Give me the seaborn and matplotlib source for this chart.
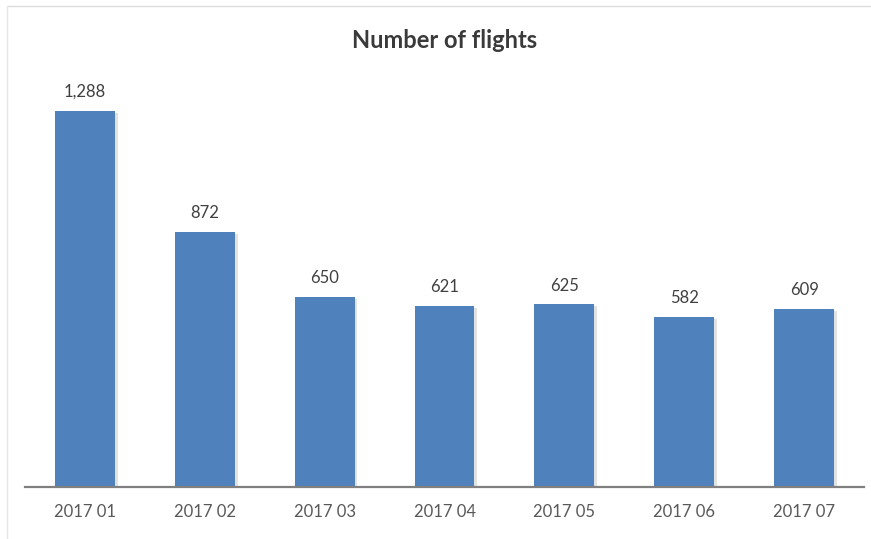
import matplotlib
matplotlib.use("Agg")
import matplotlib.pyplot as plt
import matplotlib.patheffects as pe
import seaborn as sns
import pandas as pd

# Monthly flight counts
months = ["2017 01", "2017 02", "2017 03", "2017 04", "2017 05", "2017 06", "2017 07"]
flights = [1288, 872, 650, 621, 625, 582, 609]

sns.set_theme(style="white")
plt.rcParams["font.family"] = ["Lato", "DejaVu Sans"]

W, H = 871, 539
fig = plt.figure(figsize=(W / 100, H / 100), dpi=100)
fig.patch.set_facecolor("white")

base_y, top_y = 487, 78
ax = fig.add_axes([25 / W, (H - base_y) / H, (864 - 25) / W, (base_y - top_y) / H])

df = pd.DataFrame({"month": months, "flights": flights})
sns.barplot(data=df, x="month", y="flights", color="#4F81BD", saturation=1,
            width=0.5, ax=ax)

shadow = [pe.SimplePatchShadow(offset=(2, -1.5), shadow_rgbFace="#8c8c8c", alpha=0.25),
          pe.Normal()]
for patch in ax.patches:
    patch.set_edgecolor("none")
    patch.set_path_effects(shadow)

for i, v in enumerate(flights):
    ax.annotate(f"{v:,}", xy=(i, v), xytext=(0, 10), textcoords="offset points",
                ha="center", va="baseline", fontsize=12, color="#404040")

ax.set_ylim(0, 1400)
ax.set_xlim(-0.5, len(months) - 0.5)
ax.set_xlabel("")
ax.set_ylabel("")
ax.set_yticks([])
ax.tick_params(axis="x", length=0, pad=12, labelsize=12, labelcolor="#595959")
for side in ["top", "left", "right"]:
    ax.spines[side].set_visible(False)
ax.spines["bottom"].set_color("#808080")
ax.spines["bottom"].set_linewidth(1.6)

fig.text(445 / W, 1 - 40 / H, "Number of flights", ha="center", va="center",
         fontsize=17, fontweight="bold", color="#3a3a3a")

# light frame at the top and left edges
fig.add_artist(plt.Line2D([7 / W, 1], [1 - 6 / H, 1 - 6 / H], color="#dddddd", lw=1))
fig.add_artist(plt.Line2D([7 / W, 7 / W], [0, 1 - 6 / H], color="#e6e6e6", lw=1))

fig.savefig("out.png", dpi=100, facecolor="white")
